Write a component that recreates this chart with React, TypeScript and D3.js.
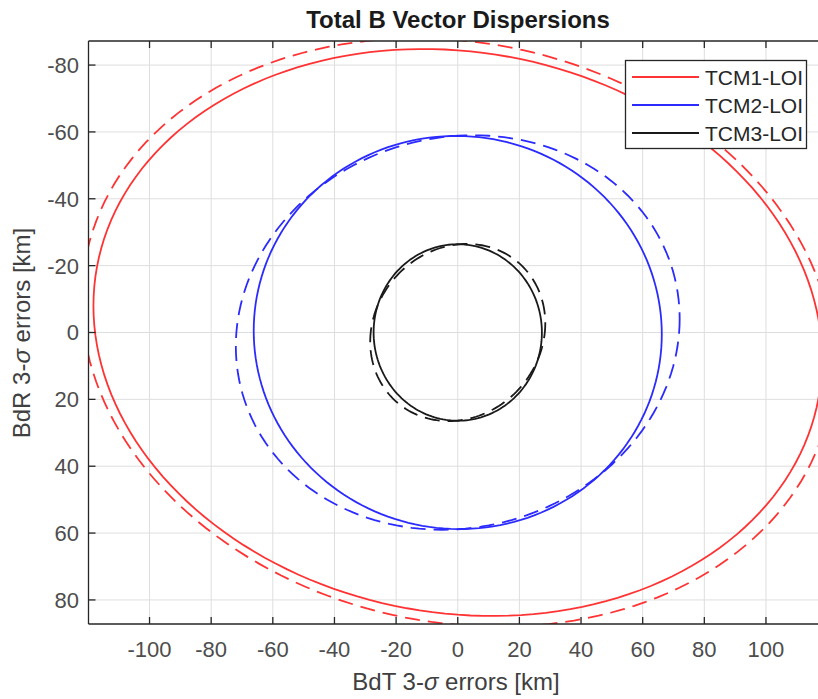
import { useEffect, useRef } from 'react';
import * as d3 from 'd3';

// legend entries, one per manoeuvre
const seriesNames = ['TCM1-LOI', 'TCM2-LOI', 'TCM3-LOI'];
const seriesColors = ['#ff3333', '#2b2bff', '#1a1a1a'];

// 3-sigma extents [km]; skew = tilt of the ellipse (deg)
const solidBdT = [118.2, 66.2, 27.3];
const solidBdR = [84.8, 58.8, 26.4];
const solidSkew = [5.4, 0.5, 0];
const dashedBdT = [122, 72, 28.4];
const dashedBdR = [88, 59, 26.5];
const dashedSkew = [6.3, -4, -6];

const xTicks = [-100, -80, -60, -40, -20, 0, 20, 40, 60, 80, 100];
const yTicks = [-80, -60, -40, -20, 0, 20, 40, 60, 80];

const App = () => {
  const svgRef = useRef<SVGSVGElement | null>(null);

  useEffect(() => {
    const width = 818;
    const height = 699;
    const margin = { top: 41, right: -9, bottom: 75, left: 88.5 };
    const fontFam = 'Arial, "Liberation Sans", Helvetica, sans-serif';

    const svg = d3.select(svgRef.current)
      .attr('width', width)
      .attr('height', height);
    svg.selectAll('*').remove();

    const x = d3.scaleLinear()
      .domain([-119.8, 119.8])
      .range([margin.left, width - margin.right]);
    const y = d3.scaleLinear()
      .domain([-87.2, 87.2])
      .range([margin.top, height - margin.bottom]);

    const [x0, x1] = x.range();
    const [y0, y1] = y.range();

    svg.append('rect')
      .attr('width', width).attr('height', height)
      .attr('fill', '#fff');

    svg.append('clipPath').attr('id', 'plot-clip')
      .append('rect')
      .attr('x', x0).attr('y', y0)
      .attr('width', x1 - x0).attr('height', y1 - y0);

    // grid
    const grid = svg.append('g').attr('stroke', '#dedede').attr('stroke-width', 1);
    grid.selectAll('.gx').data(xTicks).enter().append('line')
      .attr('x1', d => x(d)).attr('x2', d => x(d))
      .attr('y1', y0).attr('y2', y1);
    grid.selectAll('.gy').data(yTicks).enter().append('line')
      .attr('x1', x0).attr('x2', x1)
      .attr('y1', d => y(d)).attr('y2', d => y(d));

    const outline = (bdt: number, bdr: number, skew: number) =>
      d3.range(0, 360, 2).map(a => {
        const t = a * Math.PI / 180;
        const s = skew * Math.PI / 180;
        return [bdt * Math.cos(t), bdr * Math.sin(t + s)] as [number, number];
      });

    const line = d3.line<[number, number]>()
      .x(d => x(d[0]))
      .y(d => y(d[1]))
      .curve(d3.curveLinearClosed);

    const curves = svg.append('g').attr('clip-path', 'url(#plot-clip)');

    seriesNames.forEach((_, i) => {
      curves.append('path')
        .attr('d', line(outline(dashedBdT[i], dashedBdR[i], dashedSkew[i])))
        .attr('fill', 'none')
        .attr('stroke', seriesColors[i])
        .attr('stroke-width', 1.8)
        .attr('stroke-dasharray', '15,8');
    });
    seriesNames.forEach((_, i) => {
      curves.append('path')
        .attr('d', line(outline(solidBdT[i], solidBdR[i], solidSkew[i])))
        .attr('fill', 'none')
        .attr('stroke', seriesColors[i])
        .attr('stroke-width', 1.8);
    });

    // axes box with inward ticks
    const axisColor = '#262626';
    const box = svg.append('g').attr('stroke', axisColor).attr('stroke-width', 1.3);
    box.append('line').attr('x1', x0).attr('x2', x1).attr('y1', y0).attr('y2', y0);
    box.append('line').attr('x1', x0).attr('x2', x1).attr('y1', y1).attr('y2', y1);
    box.append('line').attr('x1', x0).attr('x2', x0).attr('y1', y0).attr('y2', y1);
    box.append('line').attr('x1', x1).attr('x2', x1).attr('y1', y0).attr('y2', y1);
    xTicks.forEach(t => {
      box.append('line').attr('x1', x(t)).attr('x2', x(t)).attr('y1', y1).attr('y2', y1 - 7);
      box.append('line').attr('x1', x(t)).attr('x2', x(t)).attr('y1', y0).attr('y2', y0 + 7);
    });
    yTicks.forEach(t => {
      box.append('line').attr('x1', x0).attr('x2', x0 + 7).attr('y1', y(t)).attr('y2', y(t));
    });

    svg.append('g')
      .selectAll('text').data(xTicks).enter().append('text')
      .attr('x', d => x(d))
      .attr('y', 657)
      .attr('text-anchor', 'middle')
      .attr('font-family', fontFam)
      .attr('font-size', 22)
      .attr('fill', '#4d4d4d')
      .text(d => String(d));

    svg.append('g')
      .selectAll('text').data(yTicks).enter().append('text')
      .attr('x', 79)
      .attr('y', d => y(d))
      .attr('dy', '0.36em')
      .attr('text-anchor', 'end')
      .attr('font-family', fontFam)
      .attr('font-size', 22)
      .attr('fill', '#4d4d4d')
      .text(d => String(d));

    // title and axis labels
    svg.append('text')
      .attr('x', 458).attr('y', 28)
      .attr('text-anchor', 'middle')
      .attr('font-family', fontFam)
      .attr('font-size', 24)
      .attr('font-weight', 'bold')
      .attr('fill', '#1a1a1a')
      .text('Total B Vector Dispersions');

    const xl = svg.append('text')
      .attr('x', 456).attr('y', 690)
      .attr('text-anchor', 'middle')
      .attr('font-family', fontFam)
      .attr('font-size', 24)
      .attr('fill', '#404040');
    xl.append('tspan').text('BdT 3-');
    xl.append('tspan').attr('font-style', 'italic').text('σ');
    xl.append('tspan').text(' errors [km]');

    const yl = svg.append('text')
      .attr('transform', 'translate(30,333) rotate(-90)')
      .attr('text-anchor', 'middle')
      .attr('font-family', fontFam)
      .attr('font-size', 24)
      .attr('fill', '#404040');
    yl.append('tspan').text('BdR 3-');
    yl.append('tspan').attr('font-style', 'italic').text('σ');
    yl.append('tspan').text(' errors [km]');

    // legend
    const legend = svg.append('g');
    legend.append('rect')
      .attr('x', 625.5).attr('y', 60.5)
      .attr('width', 181).attr('height', 88)
      .attr('fill', '#fff')
      .attr('stroke', axisColor)
      .attr('stroke-width', 1.3);
    seriesNames.forEach((name, i) => {
      const ly = 77 + i * 28;
      legend.append('line')
        .attr('x1', 632).attr('x2', 699)
        .attr('y1', ly).attr('y2', ly)
        .attr('stroke', seriesColors[i])
        .attr('stroke-width', 1.8);
      legend.append('text')
        .attr('x', 705).attr('y', ly)
        .attr('dy', '0.36em')
        .attr('font-family', fontFam)
        .attr('font-size', 21)
        .attr('fill', '#262626')
        .text(name);
    });
  }, []);

  return (
    <svg ref={svgRef} style={{ position: 'absolute', left: 0, top: 0 }}></svg>
  );
};

export default App;
